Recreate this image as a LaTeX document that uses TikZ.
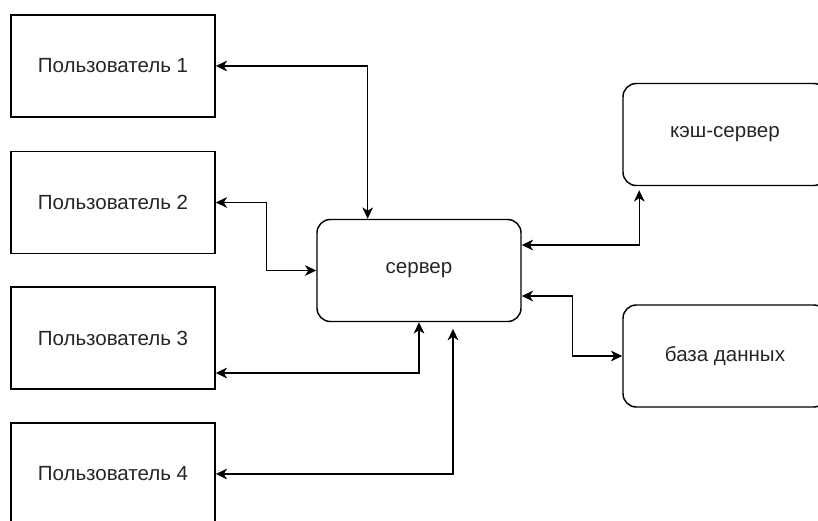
\documentclass[tikz,border=0pt]{standalone}
\usepackage{fontspec}
\setmainfont{Liberation Sans}
\usetikzlibrary{arrows.meta,calc}

\tikzset{
  userbox/.style={draw,line width=1.1pt,minimum width=153pt,minimum height=76.5pt,inner sep=0pt,text=black!85,font=\fontsize{15.4}{18}\selectfont},
  srvbox/.style={userbox,rounded corners=10pt},
  link/.style={line width=1.1pt,{Stealth[length=8.5pt,width=8pt,inset=2.5pt]}-{Stealth[length=8.5pt,width=8pt,inset=2.5pt]}}
}

\begin{document}
\begin{tikzpicture}[x=0.75pt,y=0.75pt,yscale=-1,xscale=1]
\useasboundingbox (0,0) rectangle (818,521);
\clip (0,0) rectangle (818,521);

% users
\node[userbox] (u1) at (113,66) {Пользователь 1};
\node[userbox] (u2) at (113,202.5) {Пользователь 2};
\node[userbox] (u3) at (113,338) {Пользователь 3};
\node[userbox] (u4) at (113,474) {Пользователь 4};

% servers
\node[srvbox] (srv) at (419,270.5) {сервер};
\node[srvbox] (cache) at (725,134.5) {кэш-сервер};
\node[srvbox] (db) at (725,356) {база данных};

% connectors
\draw[link] (u1.east) -| ($(srv.north west)!0.25!(srv.north east)$);
\draw[link] (u2.east) -- ++(51,0) |- (srv.west);
\draw[link] ($(u3.east)+(0,35)$) -| (srv.south);
\draw[link,shorten >=5pt] (u4.east) -| ($(srv.south)+(34,0)$);
\draw[link,shorten >=3pt] ($(srv.east)+(0,-25.5)$) -| ($(cache.south west)+(17,0)$);
\draw[link] ($(srv.east)+(0,25.5)$) -- ++(51,0) |- (db.west);

\end{tikzpicture}
\end{document}
